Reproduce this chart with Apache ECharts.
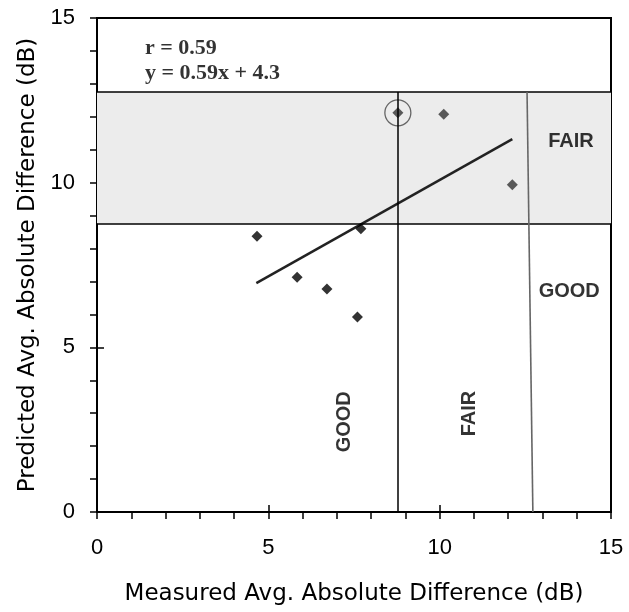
<!DOCTYPE html>
<html><head><meta charset="utf-8">
<script src="https://cdn.jsdelivr.net/npm/echarts@6/dist/echarts.min.js"></script>
<style>html,body{margin:0;padding:0;background:#fff}#c{width:629px;height:612px}</style>
</head><body><div id="c"></div>
<script>
// Data
const ptsBelow = [[4.67, 8.37], [5.84, 7.13], [6.71, 6.77], [7.60, 5.92], [7.70, 8.60]];
const ptsBand = [[8.78, 12.12], [10.12, 12.08], [12.12, 9.94]];
const circled = [[8.78, 12.12]];
const trendLine = [[4.65, 6.95], [12.12, 11.32]];
const bandY = [8.75, 12.75];
const thresholdX = [8.78, 12.55, 12.72]; // second threshold drawn slightly slanted (top, bottom)
const xTicks = [0, 5, 10, 15];
const yTicks = [0, 5, 10, 15];
const stats = ['r = 0.59', 'y = 0.59x + 4.3'];

const chart = echarts.init(document.getElementById('c'));
const FONT = 'Liberation Sans, Arial';
const axisCommon = {
  min: 0, max: 15, interval: 5,
  axisLine: {show: true, onZero: false, lineStyle: {color: '#000', width: 2}},
  axisTick: {show: true, inside: false, length: 7, lineStyle: {color: '#000', width: 1.5}},
  minorTick: {show: true, splitNumber: 5, length: 7, lineStyle: {color: '#000', width: 1.5}},
  splitLine: {show: false},
  axisLabel: {color: '#000', fontFamily: FONT, fontSize: 22},
  nameTextStyle: {color: '#000', fontFamily: 'DejaVu Sans, Liberation Sans', fontSize: 23},
  nameLocation: 'middle'
};
const innerTicks = {
  min: 0, max: 15, interval: 5, type: 'value',
  axisLine: {show: false}, axisLabel: {show: false}, splitLine: {show: false},
  axisTick: {show: true, inside: true, length: 7, lineStyle: {color: '#000', width: 1.5}}
};
const labelPts = [
  {value: [13.83, 11.26], text: 'FAIR', rotate: 0},
  {value: [13.78, 6.69], text: 'GOOD', rotate: 0},
  {value: [7.21, 2.74], text: 'GOOD', rotate: 90},
  {value: [10.88, 2.99], text: 'FAIR', rotate: 90}
];
chart.setOption({
  animation: false,
  grid: {left: 97, right: 18, top: 18, bottom: 100, show: true, borderColor: '#000', borderWidth: 2, backgroundColor: 'transparent'},
  xAxis: [
    Object.assign({}, axisCommon, {type: 'value', name: 'Measured Avg. Absolute Difference (dB)', nameGap: 71,
      axisLabel: Object.assign({}, axisCommon.axisLabel, {margin: 25, formatter: v => xTicks.includes(v) ? String(v) : ''})}),
    Object.assign({}, innerTicks, {position: 'bottom'})
  ],
  yAxis: [
    Object.assign({}, axisCommon, {type: 'value', name: 'Predicted Avg. Absolute Difference (dB)', nameGap: 55,
      axisLabel: Object.assign({}, axisCommon.axisLabel, {margin: 22, formatter: v => yTicks.includes(v) ? String(v) : ''})}),
    Object.assign({}, innerTicks, {position: 'left'})
  ],
  series: [
    {type: 'line', data: [], silent: true,
      markArea: {silent: true, itemStyle: {color: '#ececec'}, data: [[{xAxis: 0, yAxis: bandY[0]}, {xAxis: 15, yAxis: bandY[1]}]]},
      markLine: {silent: true, symbol: 'none', label: {show: false}, animation: false,
        data: [
          [{coord: [0, bandY[0]]}, {coord: [15, bandY[0]]}],
          [{coord: [0, bandY[1]]}, {coord: [15, bandY[1]]}],
          [{coord: [thresholdX[0], 0]}, {coord: [thresholdX[0], bandY[1]]}],
          [{coord: [thresholdX[2], 0], lineStyle: {color: '#666', width: 1.6}}, {coord: [thresholdX[1], bandY[1]]}]
        ],
        lineStyle: {color: '#000', width: 1.5, type: 'solid'}}
    },
    {type: 'line', data: trendLine, symbol: 'none', lineStyle: {color: '#222', width: 2.5}, z: 3},
    {type: 'scatter', data: ptsBelow, symbol: 'diamond', symbolSize: 11, itemStyle: {color: '#000'}, z: 4},
    {type: 'scatter', data: ptsBand, symbol: 'diamond', symbolSize: 11, itemStyle: {color: '#333'}, z: 4},
    {type: 'scatter', data: circled, symbol: 'circle', symbolSize: 26, itemStyle: {color: 'transparent', borderColor: '#444', borderWidth: 1.3}, z: 4},
    {type: 'scatter', symbolSize: 0, silent: true, z: 5,
      data: labelPts.map(p => ({value: p.value, label: {show: true, position: 'inside', formatter: p.text, rotate: p.rotate,
        color: '#000', fontWeight: 'bold', fontSize: 20, fontFamily: FONT}}))},
    {type: 'scatter', symbolSize: 0, silent: true, z: 5,
      data: [[1.4, 14.09], [1.4, 13.33]].map((v, i) => ({value: v, label: {show: true, position: 'right', distance: 0, formatter: stats[i],
        color: '#000', fontWeight: 'bold', fontSize: 22, fontFamily: 'Liberation Serif, Times New Roman'}}))}
  ]
});
</script></body></html>
